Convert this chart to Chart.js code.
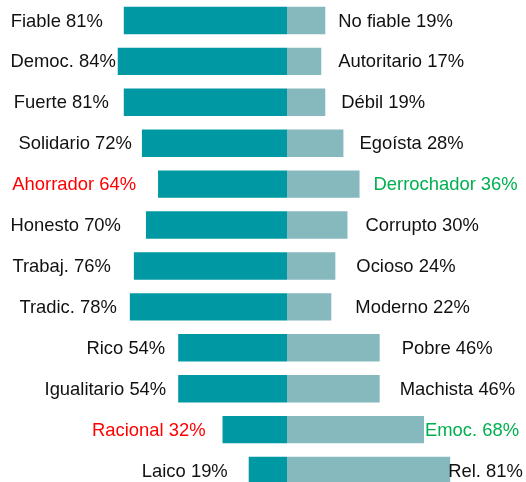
<!DOCTYPE html>
<html>
<head>
<meta charset="utf-8">
<script src="https://cdn.jsdelivr.net/npm/chart.js@4/dist/chart.umd.min.js"></script>
<style>
  html, body { margin: 0; padding: 0; background: #fff; overflow: hidden; }
  #wrap { width: 526px; height: 491px; }
</style>
</head>
<body>
<div id="wrap"><canvas id="chart" width="526" height="491"></canvas></div>
<script>
// left side traits and their share (%)
const leftTraits = ['Fiable', 'Democ.', 'Fuerte', 'Solidario', 'Ahorrador', 'Honesto',
  'Trabaj.', 'Tradic.', 'Rico', 'Igualitario', 'Racional', 'Laico'];
const leftValues = [81, 84, 81, 72, 64, 70, 76, 78, 54, 54, 32, 19];

// right side (opposite) traits and their share (%)
const rightTraits = ['No fiable', 'Autoritario', 'Débil', 'Egoísta', 'Derrochador', 'Corrupto',
  'Ocioso', 'Moderno', 'Pobre', 'Machista', 'Emoc.', 'Rel.'];
const rightValues = [19, 17, 19, 28, 36, 30, 24, 22, 46, 46, 68, 81];

// label layout: distance (px) between bar end and its label
const leftGap = [21, 2, 15, 10, 22, 25, 23, 13, 13, 12, 17, 21];
const rightGap = [13, 17, 16, 16, 14, 18, 21, 24, 22, 20, 1, -2];
const redRows = [4, 10];   // left labels in red
const greenRows = [4, 10]; // right labels in green

(function init() {
  const barLabels = {
    id: 'barLabels',
    afterDatasetsDraw(chart) {
      const { ctx } = chart;
      const left = chart.getDatasetMeta(0).data;
      const right = chart.getDatasetMeta(1).data;
      ctx.save();
      ctx.font = '18.4px "Liberation Sans", Arial, sans-serif';
      ctx.textBaseline = 'middle';
      left.forEach((bar, i) => {
        ctx.fillStyle = redRows.includes(i) ? '#FF0000' : '#111111';
        ctx.textAlign = 'right';
        ctx.fillText(`${leftTraits[i]} ${leftValues[i]}%`, bar.x - leftGap[i], bar.y + 1);
      });
      right.forEach((bar, i) => {
        ctx.fillStyle = greenRows.includes(i) ? '#00B050' : '#111111';
        ctx.textAlign = 'left';
        ctx.fillText(`${rightTraits[i]} ${rightValues[i]}%`, bar.x + rightGap[i], bar.y + 1);
      });
      ctx.restore();
    },
  };

  new Chart(document.getElementById('chart'), {
    type: 'bar',
    data: {
      labels: leftTraits,
      datasets: [
        {
          data: leftValues.map((v) => -v),
          backgroundColor: '#0099A3',
        },
        {
          data: rightValues,
          backgroundColor: '#86B9BE',
        },
      ],
    },
    options: {
      indexAxis: 'y',
      animation: false,
      responsive: false,
      datasets: { bar: { categoryPercentage: 1, barPercentage: 0.67 } },
      layout: { padding: { left: 85.5, right: 37.5, top: 0, bottom: 0 } },
      scales: {
        x: { stacked: true, min: -100, max: 100, display: false },
        y: { stacked: true, display: false },
      },
      plugins: {
        legend: { display: false },
        tooltip: { enabled: false },
      },
    },
    plugins: [barLabels],
  });
})();
</script>
</body>
</html>
